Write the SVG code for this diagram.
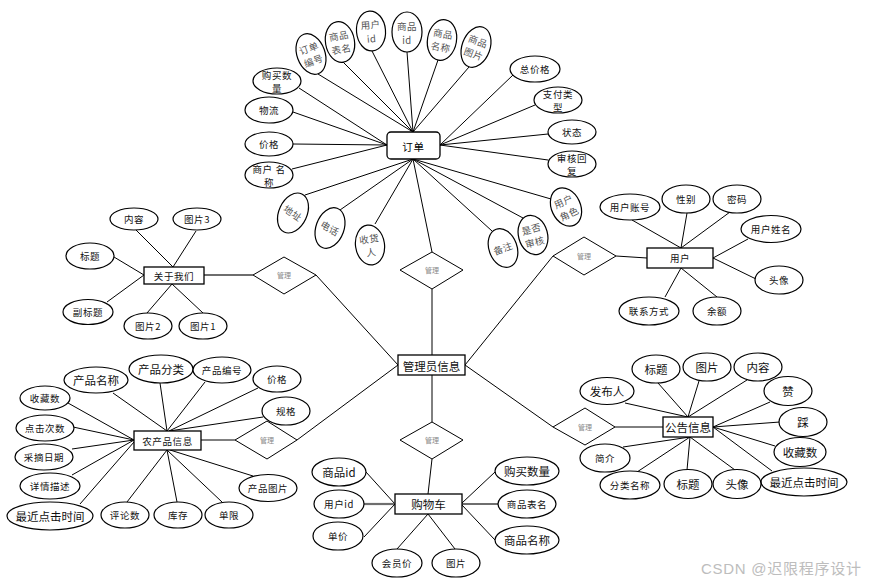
<svg xmlns="http://www.w3.org/2000/svg" width="869" height="582" viewBox="0 0 869 582">
<style>
.e{fill:#fff;stroke:#000;stroke-width:1.2}
.b{fill:#fff;stroke:#000;stroke-width:1.3}
.d{fill:#fff;stroke:#000;stroke-width:1}
.c{stroke:#000;stroke-width:1;fill:none}
.g{stroke:#6e6e6e;stroke-width:2.2;fill:none}
text{font-family:"Noto Sans CJK SC","Noto Sans",sans-serif;text-anchor:middle;dominant-baseline:central}
.t{font-size:9.5px;letter-spacing:0.6px;fill:#111}
.tl{font-size:11.5px;fill:#111}
.tb{font-size:10.5px;letter-spacing:0.8px;fill:#000}
.ts{font-size:9.5px;fill:#555;letter-spacing:0.4px}
.m{font-size:7px;fill:#888}
.w{font-size:15px;fill:#bdbdbd;text-anchor:start;font-family:"Liberation Sans","Noto Sans CJK SC",sans-serif}
</style>
<rect width="869" height="582" fill="#fff"/>
<g id="connectors">
<line class="c" x1="318" y1="74" x2="413" y2="132"/>
<line class="c" x1="343" y1="62" x2="413" y2="132"/>
<line class="c" x1="372" y1="51" x2="413" y2="132"/>
<line class="c" x1="407" y1="52" x2="413" y2="132"/>
<line class="c" x1="438" y1="60" x2="413" y2="132"/>
<line class="c" x1="469" y1="67" x2="413" y2="132"/>
<line class="c" x1="299" y1="88" x2="387" y2="145"/>
<line class="c" x1="293" y1="112" x2="387" y2="145"/>
<line class="c" x1="293" y1="144" x2="387" y2="145"/>
<line class="c" x1="292" y1="169" x2="387" y2="145"/>
<line class="c" x1="513" y1="75" x2="440" y2="145"/>
<line class="c" x1="535" y1="105" x2="440" y2="145"/>
<line class="c" x1="548" y1="134" x2="440" y2="145"/>
<line class="c" x1="548" y1="160" x2="440" y2="145"/>
<line class="c" x1="305" y1="195" x2="413" y2="159"/>
<line class="c" x1="340" y1="210" x2="413" y2="159"/>
<line class="c" x1="375" y1="224" x2="413" y2="159"/>
<line class="c" x1="492" y1="231" x2="413" y2="159"/>
<line class="c" x1="523" y1="218" x2="413" y2="159"/>
<line class="c" x1="551" y1="199" x2="413" y2="159"/>
<line class="c" x1="413" y1="159" x2="432" y2="252"/>
<line class="c" x1="432" y1="289" x2="432" y2="355"/>
<line class="c" x1="432" y1="375" x2="432" y2="422"/>
<line class="c" x1="316" y1="275" x2="398" y2="365"/>
<line class="c" x1="297" y1="440" x2="398" y2="365"/>
<line class="c" x1="553" y1="256" x2="465" y2="365"/>
<line class="c" x1="553" y1="427" x2="465" y2="365"/>
<line class="g" x1="204" y1="275" x2="253" y2="275"/>
<line class="c" x1="136" y1="230" x2="173" y2="267"/>
<line class="c" x1="196" y1="231" x2="173" y2="267"/>
<line class="c" x1="114" y1="257" x2="144" y2="275"/>
<line class="c" x1="107" y1="302" x2="144" y2="275"/>
<line class="c" x1="147" y1="313" x2="172" y2="284"/>
<line class="c" x1="203" y1="313" x2="172" y2="284"/>
<line class="c" x1="647" y1="258" x2="616" y2="256"/>
<line class="c" x1="632" y1="220" x2="681" y2="248"/>
<line class="c" x1="687" y1="213" x2="681" y2="248"/>
<line class="c" x1="730" y1="212" x2="681" y2="248"/>
<line class="c" x1="748" y1="239" x2="713" y2="258"/>
<line class="c" x1="756" y1="279" x2="713" y2="258"/>
<line class="c" x1="665" y1="297" x2="681" y2="268"/>
<line class="c" x1="717" y1="297" x2="681" y2="268"/>
<line class="c" x1="201" y1="440" x2="235" y2="440"/>
<line class="c" x1="113" y1="393" x2="167" y2="431"/>
<line class="c" x1="160" y1="383" x2="167" y2="431"/>
<line class="c" x1="205" y1="382" x2="167" y2="431"/>
<line class="c" x1="258" y1="388" x2="169" y2="431"/>
<line class="c" x1="263" y1="417" x2="169" y2="431"/>
<line class="c" x1="68" y1="403" x2="134" y2="440"/>
<line class="c" x1="73" y1="427" x2="134" y2="440"/>
<line class="c" x1="72" y1="449" x2="134" y2="440"/>
<line class="c" x1="72" y1="475" x2="134" y2="440"/>
<line class="c" x1="80" y1="504" x2="134" y2="442"/>
<line class="c" x1="127" y1="502" x2="167" y2="450"/>
<line class="c" x1="177" y1="502" x2="167" y2="450"/>
<line class="c" x1="222" y1="502" x2="167" y2="450"/>
<line class="c" x1="253" y1="476" x2="170" y2="450"/>
<line class="c" x1="428" y1="494" x2="432" y2="459"/>
<line class="c" x1="366" y1="472" x2="395" y2="504"/>
<line class="g" x1="364" y1="504" x2="395" y2="504"/>
<line class="c" x1="364" y1="537" x2="395" y2="504"/>
<line class="c" x1="397" y1="549" x2="428" y2="514"/>
<line class="c" x1="455" y1="549" x2="428" y2="514"/>
<line class="c" x1="495" y1="472" x2="462" y2="503"/>
<line class="g" x1="498" y1="504" x2="462" y2="504"/>
<line class="c" x1="495" y1="540" x2="462" y2="505"/>
<line class="c" x1="663" y1="427" x2="615" y2="427"/>
<line class="c" x1="625" y1="403" x2="688" y2="417"/>
<line class="c" x1="658" y1="383" x2="688" y2="417"/>
<line class="c" x1="699" y1="381" x2="688" y2="417"/>
<line class="c" x1="747" y1="380" x2="688" y2="417"/>
<line class="c" x1="770" y1="402" x2="713" y2="427"/>
<line class="c" x1="780" y1="422" x2="713" y2="427"/>
<line class="c" x1="775" y1="446" x2="713" y2="427"/>
<line class="c" x1="772" y1="471" x2="713" y2="427"/>
<line class="c" x1="735" y1="470" x2="690" y2="437"/>
<line class="c" x1="687" y1="470" x2="690" y2="437"/>
<line class="c" x1="637" y1="472" x2="690" y2="437"/>
<line class="c" x1="623" y1="447" x2="690" y2="437"/>
</g>

<g id="order"><rect class="b" x="387" y="132" width="53" height="27" rx="4"/><text class="tb" x="413.5" y="146">订单</text></g>
<g id="o-ddbh" transform="translate(311,54) rotate(-20)"><ellipse class="e" rx="14" ry="21"/><text class="ts" y="-6.5">订单</text><text class="ts" y="7">编号</text></g>
<g id="o-spbm" transform="translate(340,42) rotate(-10)"><ellipse class="e" rx="14.5" ry="20.5"/><text class="ts" y="-6.5">商品</text><text class="ts" y="7">表名</text></g>
<g id="o-yhid" transform="translate(371,31) rotate(-5)"><ellipse class="e" rx="14.5" ry="20"/><text class="ts" y="-6.5">用户</text><text class="ts" y="7.5">id</text></g>
<g id="o-spid" transform="translate(407,32)"><ellipse class="e" rx="15" ry="20"/><text class="ts" y="-6.5">商品</text><text class="ts" y="7.5">id</text></g>
<g id="o-spmc" transform="translate(442,40) rotate(10)"><ellipse class="e" rx="14.5" ry="20.5"/><text class="ts" y="-6.5">商品</text><text class="ts" y="7">名称</text></g>
<g id="o-sptp" transform="translate(476,47) rotate(20)"><ellipse class="e" rx="14" ry="21"/><text class="ts" y="-6.5">商品</text><text class="ts" y="7">图片</text></g>
<g id="o-gmsl"><ellipse class="e" cx="277" cy="81" rx="24" ry="13"/><text class="t" x="277" y="75">购买数</text><text class="t" x="277" y="88">量</text></g>
<g id="o-wl"><ellipse class="e" cx="269" cy="110" rx="24" ry="13"/><text class="t" x="269" y="110">物流</text></g>
<g id="o-jg"><ellipse class="e" cx="269" cy="144" rx="24" ry="12"/><text class="t" x="269" y="144">价格</text></g>
<g id="o-shmc"><ellipse class="e" cx="269" cy="175" rx="24" ry="13"/><text class="t" x="269" y="169">商户 名</text><text class="t" x="269" y="182">称</text></g>
<g id="o-zjg"><ellipse class="e" cx="535" cy="69" rx="25" ry="13"/><text class="t" x="535" y="69">总价格</text></g>
<g id="o-zflx"><ellipse class="e" cx="558" cy="100" rx="24" ry="13"/><text class="t" x="558" y="94">支付类</text><text class="t" x="558" y="107">型</text></g>
<g id="o-zt"><ellipse class="e" cx="572" cy="132" rx="24" ry="12"/><text class="t" x="572" y="132">状态</text></g>
<g id="o-shhf"><ellipse class="e" cx="572" cy="164" rx="24" ry="13"/><text class="t" x="572" y="158">审核回</text><text class="t" x="572" y="171">复</text></g>
<g id="o-dz" transform="translate(293,213) rotate(25)"><ellipse class="e" rx="14" ry="21"/><text class="ts" transform="rotate(10)">地址</text></g>
<g id="o-dh" transform="translate(330,228) rotate(20)"><ellipse class="e" rx="14" ry="21"/><text class="ts" transform="rotate(10)">电话</text></g>
<g id="o-shr" transform="translate(370,245) rotate(-8)"><ellipse class="e" rx="14.5" ry="20"/><text class="ts" y="-6.5">收货</text><text class="ts" y="7">人</text></g>
<g id="o-bz" transform="translate(503,248) rotate(-20)"><ellipse class="e" rx="14" ry="20"/><text class="ts">备注</text></g>
<g id="o-sfsh" transform="translate(533,235) rotate(-15)"><ellipse class="e" rx="14.5" ry="20"/><text class="ts" y="-6.5">是否</text><text class="ts" y="7">审核</text></g>
<g id="o-yhjs" transform="translate(566,207) rotate(-25)"><ellipse class="e" rx="14.5" ry="20"/><text class="ts" y="-6.5">用户</text><text class="ts" y="7">角色</text></g>

<g id="rel-about"><polygon class="d" points="253,275 284,257 316,275 284,294"/><text class="m" x="284" y="275">管理</text></g>
<g id="rel-order"><polygon class="d" points="400,270 432,252 463,270 432,289"/><text class="m" x="432" y="270">管理</text></g>
<g id="rel-user"><polygon class="d" points="553,256 584,237 616,256 584,275"/><text class="m" x="584" y="256">管理</text></g>
<g id="rel-product"><polygon class="d" points="235,440 267,421 297,440 267,459"/><text class="m" x="267" y="440">管理</text></g>
<g id="rel-cart"><polygon class="d" points="400,440 432,422 463,440 432,459"/><text class="m" x="432" y="440">管理</text></g>
<g id="rel-notice"><polygon class="d" points="553,427 585,408 615,427 585,445"/><text class="m" x="585" y="427">管理</text></g>

<g id="admin"><rect class="b" x="398" y="355" width="67" height="20"/><text class="tl" x="431.5" y="365.5">管理员信息</text></g>

<g id="about"><rect class="b" x="144" y="267" width="60" height="17"/><text class="t" x="174" y="275.5">关于我们</text></g>
<g id="a-nr"><ellipse class="e" cx="134" cy="219" rx="24" ry="11"/><text class="t" x="134" y="219">内容</text></g>
<g id="a-tp3"><ellipse class="e" cx="197" cy="219" rx="24" ry="11"/><text class="t" x="197" y="219">图片3</text></g>
<g id="a-bt"><ellipse class="e" cx="90" cy="256" rx="24" ry="13"/><text class="t" x="90" y="256">标题</text></g>
<g id="a-fbt"><ellipse class="e" cx="88" cy="312" rx="25" ry="12.5"/><text class="t" x="88" y="312">副标题</text></g>
<g id="a-tp2"><ellipse class="e" cx="148" cy="326" rx="24" ry="13"/><text class="t" x="148" y="326">图片2</text></g>
<g id="a-tp1"><ellipse class="e" cx="203" cy="326" rx="24" ry="13"/><text class="t" x="203" y="326">图片1</text></g>

<g id="user"><rect class="b" x="647" y="248" width="66" height="20"/><text class="t" x="680" y="258">用户</text></g>
<g id="u-zh"><ellipse class="e" cx="630" cy="207" rx="30" ry="13"/><text class="t" x="630" y="207">用户账号</text></g>
<g id="u-xb"><ellipse class="e" cx="686" cy="199" rx="24" ry="14"/><text class="t" x="686" y="199">性别</text></g>
<g id="u-mm"><ellipse class="e" cx="737" cy="199" rx="24" ry="14"/><text class="t" x="737" y="199">密码</text></g>
<g id="u-xm"><ellipse class="e" cx="771" cy="229" rx="30" ry="13.5"/><text class="t" x="771" y="229">用户姓名</text></g>
<g id="u-tx"><ellipse class="e" cx="779" cy="280" rx="24" ry="14"/><text class="t" x="779" y="280">头像</text></g>
<g id="u-lxfs"><ellipse class="e" cx="649" cy="311" rx="30" ry="14"/><text class="t" x="649" y="311">联系方式</text></g>
<g id="u-ye"><ellipse class="e" cx="717" cy="311" rx="24" ry="14"/><text class="t" x="717" y="311">余额</text></g>

<g id="product"><rect class="b" x="134" y="431" width="67" height="19"/><text class="t" x="167.5" y="440.5">农产品信息</text></g>
<g id="p-cpmc"><ellipse class="e" cx="96" cy="380" rx="32" ry="13"/><text class="tl" x="96" y="380">产品名称</text></g>
<g id="p-cpfl"><ellipse class="e" cx="161" cy="369" rx="32" ry="14"/><text class="tl" x="161" y="369">产品分类</text></g>
<g id="p-cpbh"><ellipse class="e" cx="222" cy="370" rx="29" ry="13"/><text class="t" x="222" y="370">产品编号</text></g>
<g id="p-jg"><ellipse class="e" cx="277" cy="379" rx="24" ry="13"/><text class="t" x="277" y="379">价格</text></g>
<g id="p-gg"><ellipse class="e" cx="286" cy="411" rx="24" ry="14"/><text class="t" x="286" y="411">规格</text></g>
<g id="p-scs"><ellipse class="e" cx="45" cy="398" rx="25" ry="12"/><text class="t" x="45" y="398">收藏数</text></g>
<g id="p-djcs"><ellipse class="e" cx="45" cy="428" rx="29" ry="13"/><text class="t" x="45" y="428">点击次数</text></g>
<g id="p-czrq"><ellipse class="e" cx="44" cy="457" rx="29" ry="13"/><text class="t" x="44" y="457">采摘日期</text></g>
<g id="p-xqms"><ellipse class="e" cx="50" cy="486" rx="30" ry="13"/><text class="t" x="50" y="486">详情描述</text></g>
<g id="p-zjdj"><ellipse class="e" cx="50" cy="516" rx="43" ry="14"/><text class="tl" x="50" y="516">最近点击时间</text></g>
<g id="p-pls"><ellipse class="e" cx="125" cy="515" rx="24" ry="13"/><text class="t" x="125" y="515">评论数</text></g>
<g id="p-kc"><ellipse class="e" cx="178" cy="515" rx="24" ry="13"/><text class="t" x="178" y="515">库存</text></g>
<g id="p-dx"><ellipse class="e" cx="229" cy="515" rx="24" ry="13"/><text class="t" x="229" y="515">单限</text></g>
<g id="p-cptp"><ellipse class="e" cx="268" cy="488" rx="29" ry="13.5"/><text class="t" x="268" y="488">产品图片</text></g>

<g id="cart"><rect class="b" x="395" y="494" width="67" height="20"/><text class="tl" x="428.5" y="504">购物车</text></g>
<g id="c-spid"><ellipse class="e" cx="339" cy="472" rx="27" ry="14"/><text class="tl" x="339" y="472">商品id</text></g>
<g id="c-yhid"><ellipse class="e" cx="339" cy="504" rx="25" ry="14"/><text class="t" x="339" y="504">用户id</text></g>
<g id="c-dj"><ellipse class="e" cx="338" cy="536" rx="25" ry="14"/><text class="t" x="338" y="536">单价</text></g>
<g id="c-hyj"><ellipse class="e" cx="397" cy="563" rx="25" ry="14"/><text class="t" x="397" y="563">会员价</text></g>
<g id="c-tp"><ellipse class="e" cx="456" cy="563" rx="24" ry="14"/><text class="t" x="456" y="563">图片</text></g>
<g id="c-gmsl"><ellipse class="e" cx="527" cy="471" rx="32" ry="14"/><text class="tl" x="527" y="471">购买数量</text></g>
<g id="c-spbm"><ellipse class="e" cx="527" cy="504" rx="29" ry="14"/><text class="t" x="527" y="504">商品表名</text></g>
<g id="c-spmc"><ellipse class="e" cx="527" cy="540" rx="32" ry="14"/><text class="tl" x="527" y="540">商品名称</text></g>

<g id="notice"><rect class="b" x="663" y="417" width="50" height="20"/><text class="tl" x="688" y="427">公告信息</text></g>
<g id="n-fbr"><ellipse class="e" cx="607" cy="391" rx="27" ry="13.5"/><text class="tl" x="607" y="391">发布人</text></g>
<g id="n-bt1"><ellipse class="e" cx="656" cy="369" rx="24" ry="14"/><text class="tl" x="656" y="369">标题</text></g>
<g id="n-tp"><ellipse class="e" cx="707" cy="367" rx="24" ry="14"/><text class="tl" x="707" y="367">图片</text></g>
<g id="n-nr"><ellipse class="e" cx="758" cy="367" rx="24" ry="14"/><text class="tl" x="758" y="367">内容</text></g>
<g id="n-z"><ellipse class="e" cx="788" cy="391" rx="24" ry="14.5"/><text class="tl" x="788" y="391">赞</text></g>
<g id="n-c"><ellipse class="e" cx="803" cy="422" rx="24" ry="14.5"/><text class="tl" x="803" y="422">踩</text></g>
<g id="n-scs"><ellipse class="e" cx="800" cy="452" rx="26" ry="14.5"/><text class="tl" x="800" y="452">收藏数</text></g>
<g id="n-zjdj"><ellipse class="e" cx="804" cy="482" rx="43" ry="14"/><text class="tl" x="804" y="482">最近点击时间</text></g>
<g id="n-tx"><ellipse class="e" cx="737" cy="484" rx="24" ry="14.5"/><text class="tl" x="737" y="484">头像</text></g>
<g id="n-bt2"><ellipse class="e" cx="688" cy="484" rx="24" ry="14.5"/><text class="tl" x="688" y="484">标题</text></g>
<g id="n-flmc"><ellipse class="e" cx="630" cy="485" rx="30" ry="14"/><text class="t" x="630" y="485">分类名称</text></g>
<g id="n-jj"><ellipse class="e" cx="605" cy="458" rx="25" ry="14"/><text class="t" x="605" y="458">简介</text></g>

<text class="w" x="701" y="568" textLength="160">CSDN @迟限程序设计</text>
</svg>
